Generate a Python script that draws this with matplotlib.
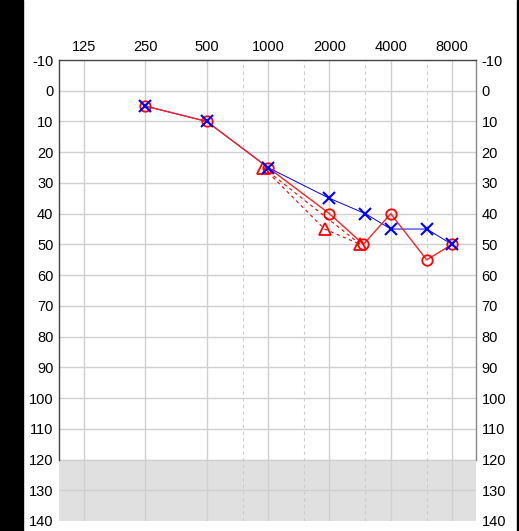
import numpy as np
import matplotlib.pyplot as plt
from matplotlib.patches import Rectangle

plt.rcParams['font.family'] = ['Liberation Sans', 'DejaVu Sans']
plt.rcParams['axes.unicode_minus'] = False

# frequencies (Hz) and hearing levels (dB HL)
freq_labels = ["125", "250", "500", "1000", "2000", "4000", "8000"]
mid_freqs = [750, 1500, 3000, 6000]

left_freqs = [250, 500, 1000, 2000, 3000, 4000, 6000, 8000]
left_db = [5, 10, 25, 35, 40, 45, 45, 50]

right_freqs = [250, 500, 1000, 2000, 3000, 4000, 6000, 8000]
right_db = [5, 10, 25, 40, 50, 40, 55, 50]

masked_freqs = [1000, 2000, 3000]
masked_db = [25, 45, 50]

masked2_freqs = [1000, 3000]
masked2_db = [25, 50]


def pos(f, shift=0.0):
    return np.log2(np.asarray(f, dtype=float) / 125.0) + 1 + shift


fig = plt.figure(figsize=(5.19, 5.31), dpi=100)
fig.patches.append(Rectangle((0, 0), 23 / 519, 1, transform=fig.transFigure,
                             color="black", zorder=0))
fig.patches.append(Rectangle((517 / 519, 0), 2 / 519, 1, transform=fig.transFigure,
                             color="black", zorder=0))

ax = fig.add_axes([59 / 519, 10 / 531, 417 / 519, 461 / 531])
ax.set_xlim(0.59, 7.39)
ax.set_ylim(140, -10)

# grid
for i in range(1, 8):
    ax.axvline(i, color="#d0d0d0", lw=1, zorder=1)
for f in mid_freqs:
    ax.axvline(pos(f), color="#cccccc", lw=0.8, ls=(0, (3, 3)), zorder=1)
for d in range(0, 140, 10):
    ax.axhline(d, color="#d0d0d0", lw=1, zorder=1)
ax.axhspan(120, 140, color="#e0e0e0", zorder=0.5)

for s in ["left", "top", "right"]:
    ax.spines[s].set_color("#444444")
    ax.spines[s].set_linewidth(1)
ax.spines["right"].set_color("#888888")
ax.spines["bottom"].set_visible(False)
ax.spines["right"].set_bounds(-10, 120)
ax.spines["left"].set_bounds(-10, 120)

ax.set_xticks(range(1, 8))
ax.set_xticklabels(freq_labels)
ax.xaxis.tick_top()
ax.set_yticks(range(-10, 141, 10))
ax.tick_params(axis="x", length=0, pad=4, labelsize=10.5)
ax.tick_params(axis="y", length=0, pad=4, labelsize=10.5,
               left=True, right=True, labelleft=True, labelright=True)

rx = pos(right_freqs)
rx[4] = pos(3000, -0.03)
lx = pos(left_freqs)

# connecting lines (right ear drawn over left ear)
ax.plot(lx, left_db, color="blue", lw=0.7, zorder=3)
ax.plot(pos(masked2_freqs, -0.08), masked2_db, color="red", lw=0.8,
        ls=(0, (3, 3)), zorder=3.5)
ax.plot(pos(masked_freqs, -0.08), masked_db, color="red", lw=0.8,
        ls=(0, (3, 3)), zorder=3.5)
ax.plot(rx, right_db, color="#ff2020", lw=1.0, zorder=4)

# symbols
ax.plot(pos(masked_freqs, -0.08), masked_db, ls="none", marker="^", ms=8.5,
        mfc="none", mec="red", mew=1.3, zorder=5)
ax.plot(rx, right_db, ls="none", marker="o", ms=7.5, mfc="none",
        mec="red", mew=1.3, zorder=5)
ax.plot(lx, left_db, ls="none", marker="x", ms=8, mec="blue", mew=1.5, zorder=6)

fig.savefig("out.png", dpi=100)
